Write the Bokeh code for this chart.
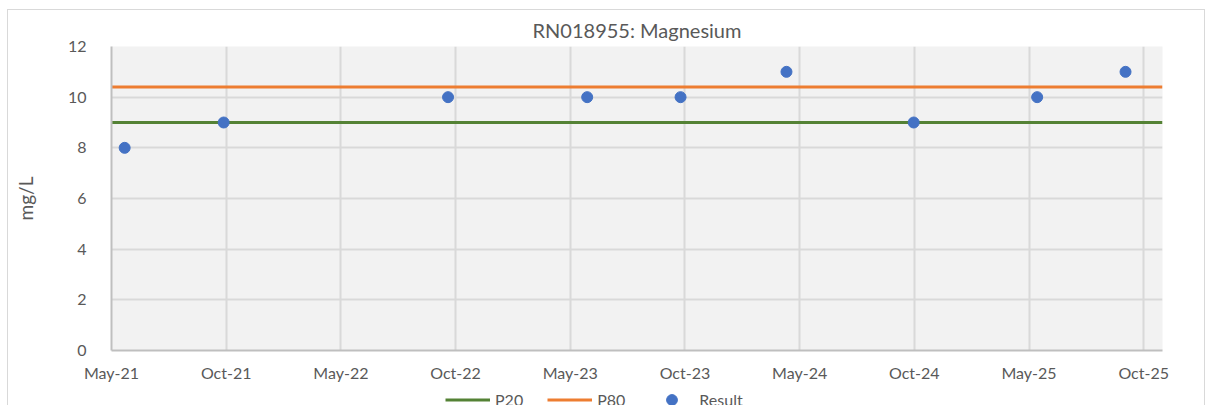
import pandas as pd
from bokeh.plotting import figure
from bokeh.layouts import column
from bokeh.models import FixedTicker, Legend, LegendItem, Range1d
from bokeh.embed import file_html
from bokeh.resources import INLINE

# ---- data ----
sample_dates = ["2021-05-22", "2021-10-27", "2022-10-20", "2023-05-30", "2023-10-26",
                "2024-04-12", "2024-11-01", "2025-05-17", "2025-10-05"]
results = [8, 9, 10, 10, 10, 11, 9, 10, 11]
p20_value = 9.0
p80_value = 10.4
tick_labels = ["May-21", "Oct-21", "May-22", "Oct-22", "May-23",
               "Oct-23", "May-24", "Oct-24", "May-25", "Oct-25"]
axis_start = "2021-05-01"
tick_step_days = 183
axis_end_days = 1677
y_ticks = [0, 2, 4, 6, 8, 10, 12]

# ---- derived ----
t0 = pd.Timestamp(axis_start)
x_days = [(pd.Timestamp(d) - t0).days for d in sample_dates]
x_ticks = [i * tick_step_days for i in range(len(tick_labels))]

FONT = "Lato"
TXT = "#595959"
GREEN, ORANGE, BLUE = "#548235", "#ed7d31", "#4472c4"

p = figure(width=1196, height=375, output_backend="svg", toolbar_location=None,
           x_range=Range1d(0, axis_end_days), y_range=Range1d(0, 12),
           min_border_left=103, min_border_right=42, min_border_top=32, min_border_bottom=35,
           title="RN018955: Magnesium")

p.title.align = "center"
p.title.text_font = FONT
p.title.text_font_size = "20px"
p.title.text_font_style = "normal"
p.title.text_color = TXT

p.background_fill_color = "#f2f2f2"
p.border_fill_color = "#ffffff"
p.outline_line_color = None

p.xaxis.ticker = FixedTicker(ticks=x_ticks)
p.xaxis.major_label_overrides = {x: lab for x, lab in zip(x_ticks, tick_labels)}
p.yaxis.ticker = FixedTicker(ticks=y_ticks)

for ax in (p.xaxis, p.yaxis):
    ax.major_tick_line_color = None
    ax.minor_tick_line_color = None
    ax.axis_line_color = "#bfbfbf"
    ax.axis_line_width = 2
    ax.major_label_text_font = FONT
    ax.major_label_text_font_size = "16px"
    ax.major_label_text_color = TXT

p.xaxis.major_label_standoff = 6
p.yaxis.major_label_standoff = 19
p.yaxis.axis_label = "mg/L"
p.yaxis.axis_label_text_font = FONT
p.yaxis.axis_label_text_font_size = "19px"
p.yaxis.axis_label_text_font_style = "normal"
p.yaxis.axis_label_text_color = TXT
p.yaxis.axis_label_standoff = 28

p.xgrid.grid_line_color = "#d9d9d9"
p.ygrid.grid_line_color = "#d9d9d9"
p.xgrid.grid_line_width = 2
p.ygrid.grid_line_width = 2

p.line([0, axis_end_days], [p20_value, p20_value], line_color=GREEN, line_width=3)
p.line([0, axis_end_days], [p80_value, p80_value], line_color=ORANGE, line_width=3)
p.scatter(x_days, results, size=11, fill_color=BLUE, line_color=BLUE)

# ---- legend strip below the chart (its own small figure) ----
lg = figure(width=1196, height=30, output_backend="svg", toolbar_location=None,
            x_range=Range1d(0, 1), y_range=Range1d(0, 1),
            x_axis_location=None, y_axis_location=None,
            min_border_left=0, min_border_right=0, min_border_top=0, min_border_bottom=0)
lg.grid.visible = False
lg.outline_line_color = None
lg.background_fill_color = "#ffffff"
lg.border_fill_color = "#ffffff"
# same series, drawn outside this strip's ranges, only to key the legend
k20 = lg.line([0, axis_end_days], [p20_value, p20_value], line_color=GREEN, line_width=3)
k80 = lg.line([0, axis_end_days], [p80_value, p80_value], line_color=ORANGE, line_width=3)
kres = lg.scatter(x_days, results, size=11, fill_color=BLUE, line_color=BLUE)

legend = Legend(items=[LegendItem(label="P20", renderers=[k20]),
                       LegendItem(label="P80", renderers=[k80]),
                       LegendItem(label="Result", renderers=[kres])],
                orientation="horizontal", location=(334, 2),
                glyph_width=45, glyph_height=27, label_standoff=5, spacing=24,
                padding=0, margin=0, label_text_font=FONT, label_text_font_size="16px",
                label_text_color=TXT, background_fill_alpha=0, border_line_color=None)
lg.add_layout(legend)

layout = column(p, lg, spacing=0)
layout.styles = {"border": "1px solid #d9d9d9", "margin-left": "7px", "margin-top": "9px"}

open("out.html", "w").write(file_html(layout, INLINE))
